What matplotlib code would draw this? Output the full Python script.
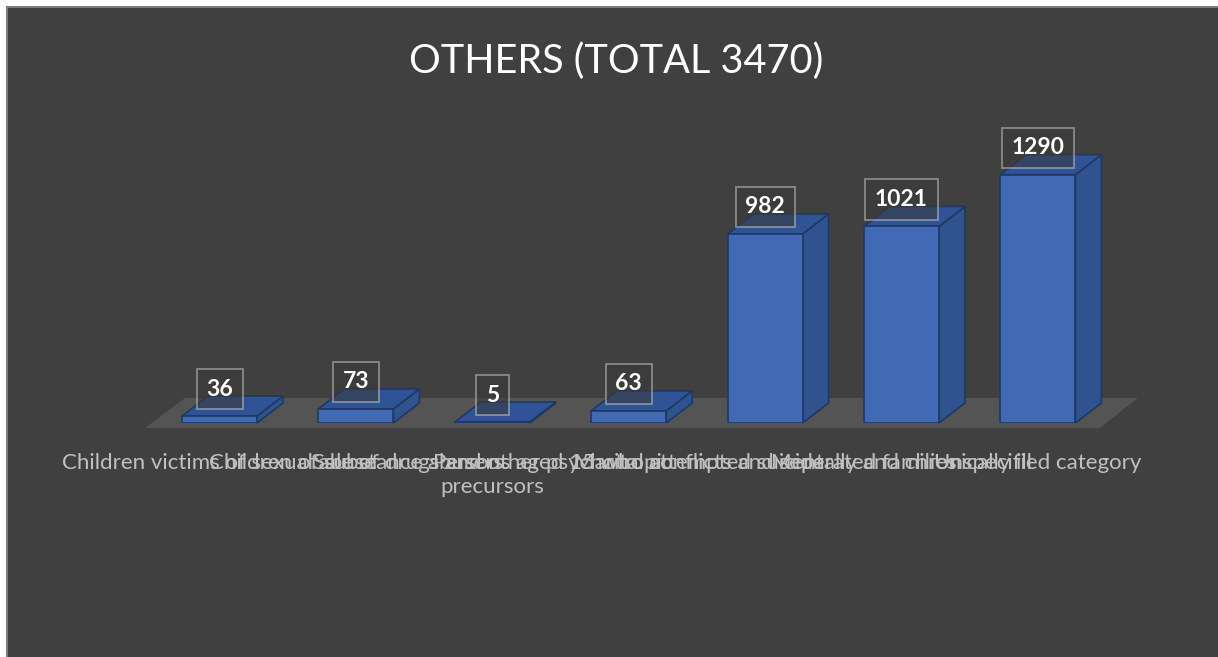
import numpy as np
import matplotlib
matplotlib.use("Agg")
import matplotlib.pyplot as plt
from matplotlib.patches import Polygon, Rectangle
from matplotlib.lines import Line2D

plt.rcParams['font.family'] = ['Lato', 'DejaVu Sans']

# data
categories = [
    "Children victims of sexual abuse",
    "Children of substance abusers",
    "Sale of drugs and other psychotropic\nprecursors",
    "Persons aged 15 who attempted suicide",
    "Marital conflicts and separated families",
    "Mentally and chronically ill",
    "Unspecified category",
]
values = [36, 73, 5, 63, 982, 1021, 1290]
title = "OTHERS (TOTAL 3470)"

# colours
BG = "#404040"
FLOOR = "#545454"
FRONT = "#4169b4"
SIDE = "#30528f"
TOP = "#2f5394"
EDGE = "#1f3864"

W, H = 1218, 657
fig = plt.figure(figsize=(W / 100, H / 100), dpi=100, facecolor=BG)

# white margin + thin border on top / left only
fig.patches.append(Rectangle((0, (H - 6) / H), 1, 6 / H, transform=fig.transFigure,
                             facecolor="white", edgecolor="none", zorder=-5))
fig.patches.append(Rectangle((0, 0), 6 / W, 1, transform=fig.transFigure,
                             facecolor="white", edgecolor="none", zorder=-5))
bx, by = 6.5 / W, (H - 6.5) / H
fig.lines.append(Line2D([bx, bx, 1.0], [0, by, by], transform=fig.transFigure,
                        color="#8a8a8a", linewidth=1.2, zorder=-4))

# axes placed so category spacing ~136 px, 0.1925 px per unit
px_unit = 136.4
y_px = 0.1925
x0, x1 = -0.6, 6.8
y0, y1 = 0, 1500
left_px = 219.5 + x0 * px_unit
ax = fig.add_axes([left_px / W, (H - 423) / H,
                   (x1 - x0) * px_unit / W, (y1 - y0) * y_px / H])
ax.set_xlim(x0, x1)
ax.set_ylim(y0, y1)
ax.axis("off")
ax.patch.set_alpha(0)

n = len(values)
x = np.arange(n)
bw = 0.55
dx = 26 / px_unit
dy = 20 / y_px

# floor
fdx = 40 / px_unit
fdy = 30 / y_px
fy = -5 / y_px
fl, fr = -0.546, n - 0.546
floor = Polygon([(fl, fy), (fr, fy), (fr + fdx * 0.95, fy + fdy), (fl + fdx, fy + fdy)],
                closed=True, facecolor=FLOOR, edgecolor="none", zorder=1,
                clip_on=False)
ax.add_patch(floor)

# 3d bars
for xi, v in zip(x, values):
    l, r = xi - bw / 2, xi + bw / 2
    side = Polygon([(r, 0), (r + dx, dy), (r + dx, v + dy), (r, v)],
                   facecolor=SIDE, edgecolor=EDGE, linewidth=1.2, zorder=3,
                   clip_on=False)
    top = Polygon([(l, v), (r, v), (r + dx, v + dy), (l + dx, v + dy)],
                  facecolor=TOP, edgecolor=EDGE, linewidth=1.2, zorder=3,
                  clip_on=False)
    ax.add_patch(side)
    ax.add_patch(top)
ax.bar(x, values, width=bw, color=FRONT, edgecolor=EDGE, linewidth=1.2, zorder=4)

# value labels
for xi, v in zip(x, values):
    ax.annotate(str(v), xy=(xi, v), xytext=(0, 27), textcoords="offset pixels",
                ha="center", va="center", fontsize=16.5, fontweight="bold",
                color="white", zorder=6,
                bbox=dict(boxstyle="square,pad=0.42", facecolor="#3a3a3a",
                          alpha=0.55, edgecolor="#c8c8c8", linewidth=1.3))

# category labels (they overlap, as in the original)
for xi, c in zip(x, categories):
    ax.annotate(c, xy=(xi, 0), xytext=(0, -30), textcoords="offset pixels",
                ha="center", va="top", fontsize=16, color="#c0c0c0",
                multialignment="center", linespacing=1.25, zorder=5,
                annotation_clip=False)

fig.text(616 / W, (H - 73) / H, title, ha="center", va="baseline",
         fontsize=28.5, color="white")

fig.savefig("out.png", dpi=100, facecolor=fig.get_facecolor())
